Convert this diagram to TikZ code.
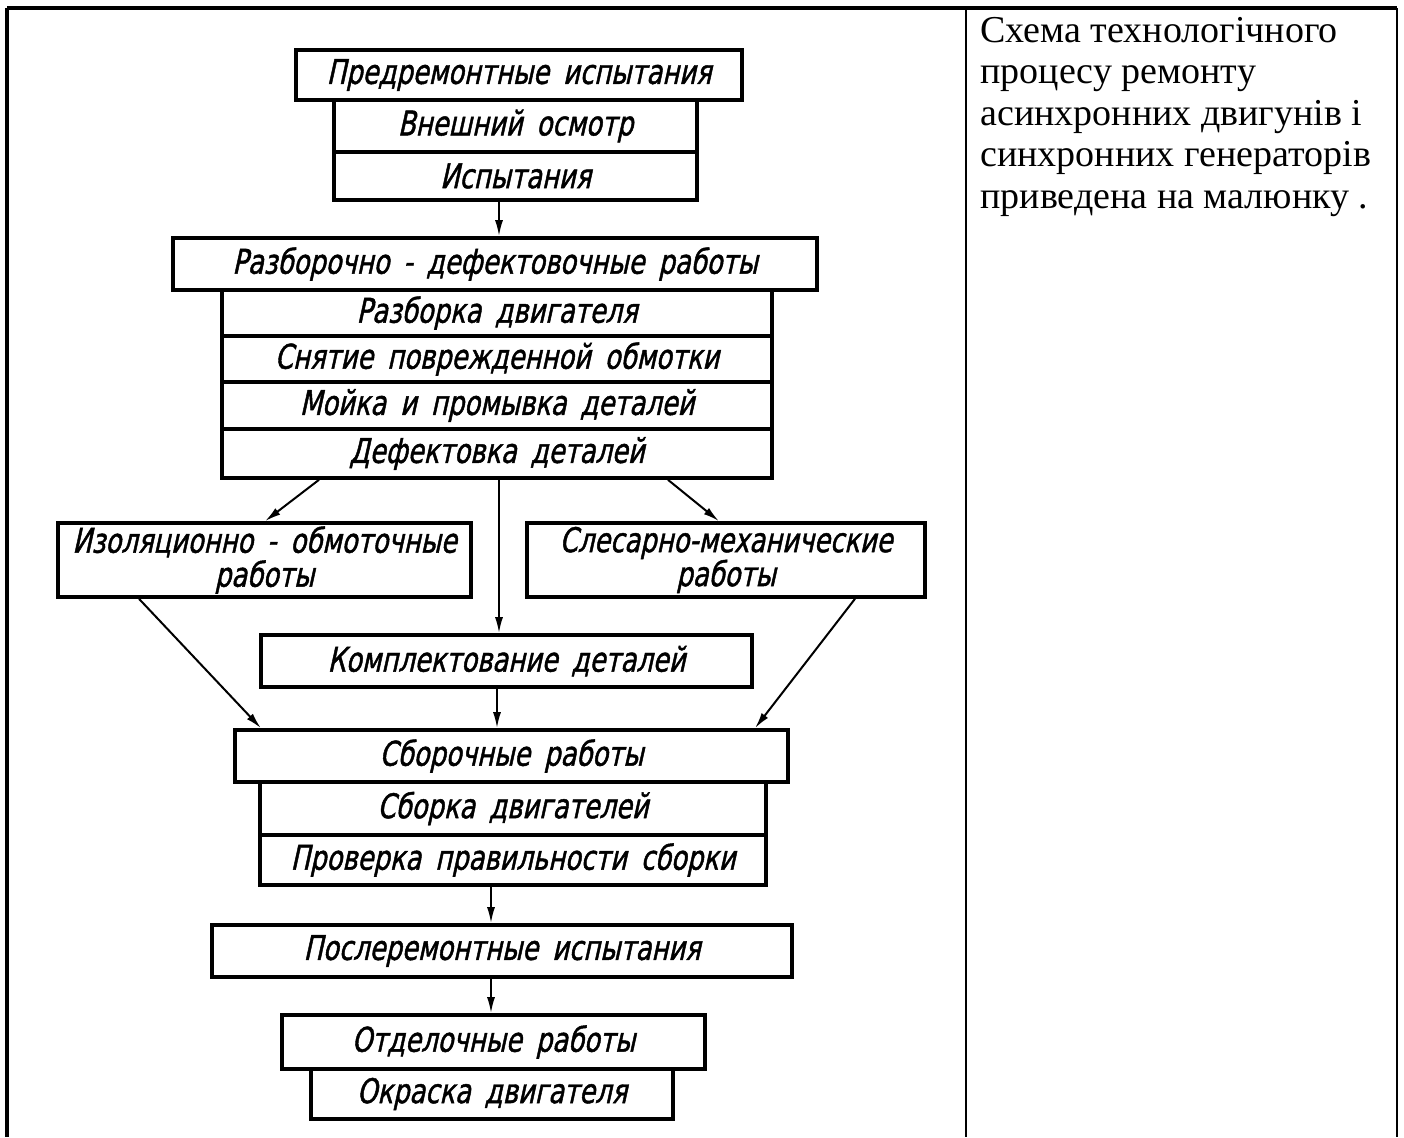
\documentclass[tikz,border=0pt]{standalone}
\usepackage{fontspec}
\setmainfont{Liberation Serif}
\newfontfamily\gost[FakeStretch=0.76,FakeSlant=0.22,FakeBold=1.3,WordSpace=1.7]{DejaVu Sans}
\usetikzlibrary{arrows.meta}
\begin{document}
\begin{tikzpicture}[x=0.5pt,y=-0.5pt,
  box/.style={draw=black,line width=1.8pt,inner sep=0pt,
    font=\gost\fontsize{17}{17}\selectfont,align=center},
  arr/.style={line width=1pt,-{Latex[length=8pt,width=4pt]}},
  tline/.style={line width=1.2pt},
  captxt/.style={anchor=base west,inner sep=0pt,font=\fontsize{19}{19}\selectfont}]
\useasboundingbox (0,0) rectangle (1404,1137);
% table
\draw[line width=1.6pt] (7,8) -- (1397,8);
\draw[line width=1.8pt] (7,8) -- (7,1137);
\draw[tline] (966,8) -- (966,1137);
\draw[tline] (1397,8) -- (1397,1137);
% caption
\node[captxt] (c1) at (980,42) {Схема технологічного};
\node[captxt] (c2) at (980,83.5) {процесу ремонту};
\node[captxt] (c3) at (980,125) {асинхронних двигунів і};
\node[captxt] (c4) at (980,166.5) {синхронних генераторів};
\node[captxt] (c5) at (980,208) {приведена на малюнку .};
% boxes
\node[box,minimum width=181.5pt,minimum height=26pt] (b2) at (515.5,126) {Внешний осмотр};
\node[box,minimum width=181.5pt,minimum height=24pt] (b3) at (515.5,176) {Испытания};
\node[box,minimum width=223pt,minimum height=25pt] (b1) at (519,75) {Предремонтные испытания};
\node[box,minimum width=275pt,minimum height=23pt] (b5) at (497,313) {Разборка двигателя};
\node[box,minimum width=275pt,minimum height=23pt] (b6) at (497,359) {Снятие поврежденной обмотки};
\node[box,minimum width=275pt,minimum height=23.5pt] (b7) at (497,405.5) {Мойка и промывка деталей};
\node[box,minimum width=275pt,minimum height=24.5pt] (b8) at (497,453.5) {Дефектовка деталей};
\node[box,minimum width=322pt,minimum height=26pt] (b4) at (495,264) {Разборочно - дефектовочные работы};
\node[box,minimum width=206.5pt,minimum height=37pt] (iso) at (264.5,560) {Изоляционно - обмоточные\\работы};
\node[box,minimum width=199pt,minimum height=37pt] (sles) at (726,560) {Слесарно-механические\\работы};
\node[box,minimum width=245.5pt,minimum height=26pt] (kompl) at (506.5,661) {Комплектование деталей};
\node[box,minimum width=253pt,minimum height=26.5pt] (sbork) at (513,808.5) {Сборка двигателей};
\node[box,minimum width=253pt,minimum height=25pt] (prov) at (513,860) {Проверка правильности сборки};
\node[box,minimum width=276.5pt,minimum height=26pt] (sbor) at (511.5,756) {Сборочные работы};
\node[box,minimum width=290pt,minimum height=26pt] (posl) at (502,951) {Послеремонтные испытания};
\node[box,minimum width=181pt,minimum height=25pt] (okr) at (492,1094) {Окраска двигателя};
\node[box,minimum width=211.5pt,minimum height=27pt] (otd) at (493.5,1042) {Отделочные работы};
% helper columns
\coordinate (xa) at (499,0);
\coordinate (xl1) at (319,0);
\coordinate (xl2) at (265,0);
\coordinate (xr1) at (668,0);
\coordinate (xr2) at (719,0);
\coordinate (xil) at (139,0);
\coordinate (xit) at (261,0);
\coordinate (xsl) at (855,0);
\coordinate (xst) at (755,0);
\coordinate (xk) at (497,0);
\coordinate (xp) at (491,0);
% connectors
\draw[arr] (b3.south -| xa) -- (b4.north -| xa);
\draw[arr] (b8.south -| xl1) -- (iso.north -| xl2);
\draw[arr] (b8.south -| xr1) -- (sles.north -| xr2);
\draw[arr] (b8.south -| xa) -- (kompl.north -| xa);
\draw[arr] (iso.south -| xil) -- (sbor.north -| xit);
\draw[arr] (sles.south -| xsl) -- (sbor.north -| xst);
\draw[arr] (kompl.south -| xk) -- (sbor.north -| xk);
\draw[arr] (prov.south -| xp) -- (posl.north -| xp);
\draw[arr] (posl.south -| xp) -- (otd.north -| xp);
\end{tikzpicture}
\end{document}
